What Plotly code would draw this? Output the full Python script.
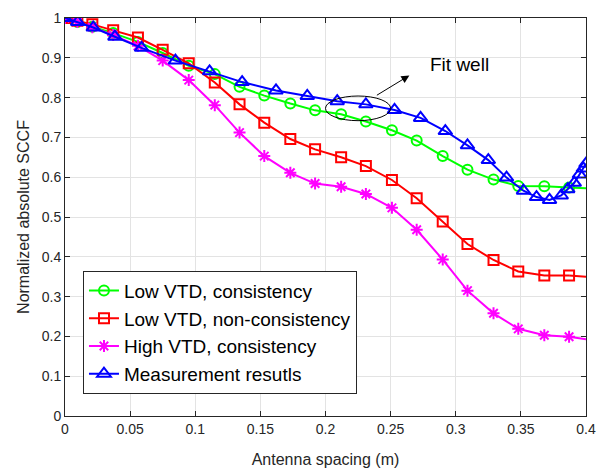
import plotly.graph_objects as go

# ---- data ----
x_sim = [0, 0.0095, 0.021, 0.037, 0.056, 0.075, 0.095, 0.115, 0.134, 0.153, 0.173,
         0.192, 0.212, 0.231, 0.251, 0.270, 0.290, 0.309, 0.329, 0.348, 0.368, 0.387]
x_end = 0.4

low_cons = [1.0, 0.99, 0.978, 0.962, 0.94, 0.912, 0.880, 0.859, 0.827, 0.805, 0.785,
            0.768, 0.758, 0.740, 0.718, 0.692, 0.653, 0.619, 0.594, 0.578, 0.577, 0.574]
low_cons_end = 0.572

low_noncons = [1.0, 0.993, 0.984, 0.969, 0.951, 0.920, 0.886, 0.838, 0.783, 0.737, 0.696,
               0.670, 0.650, 0.628, 0.593, 0.547, 0.489, 0.432, 0.392, 0.363, 0.353, 0.353]
low_noncons_end = 0.350

high_cons = [1.0, 0.99, 0.977, 0.957, 0.93, 0.893, 0.844, 0.781, 0.712, 0.653, 0.611,
             0.584, 0.576, 0.558, 0.523, 0.468, 0.393, 0.315, 0.258, 0.219, 0.203, 0.199]
high_cons_end = 0.193

x_meas = [0, 0.0097, 0.0217, 0.0383, 0.0588, 0.0848, 0.111, 0.136, 0.162, 0.186, 0.209,
          0.231, 0.253, 0.273, 0.292, 0.309, 0.325, 0.339, 0.352, 0.362, 0.372, 0.381,
          0.386, 0.391, 0.395, 0.398, 0.4]
meas = [1.0, 0.99, 0.976, 0.953, 0.925, 0.893, 0.866, 0.839, 0.818, 0.804, 0.791,
        0.783, 0.769, 0.749, 0.716, 0.680, 0.643, 0.599, 0.566, 0.550, 0.543, 0.554,
        0.570, 0.586, 0.607, 0.622, 0.634]

names = ["Low VTD, consistency", "Low VTD, non-consistency",
         "High VTD, consistency", "Measurement resutls"]

x_ticks = [0, 0.05, 0.1, 0.15, 0.2, 0.25, 0.3, 0.35, 0.4]
x_ticklabels = ["0", "0.05", "0.1", "0.15", "0.2", "0.25", "0.3", "0.35", "0.4"]
y_ticks = [0, 0.1, 0.2, 0.3, 0.4, 0.5, 0.6, 0.7, 0.8, 0.9, 1.0]
y_ticklabels = ["0", "0.1", "0.2", "0.3", "0.4", "0.5", "0.6", "0.7", "0.8", "0.9", "1"]

FONT = "Liberation Sans, Arial, Helvetica, sans-serif"
TXT = "#262626"

fig = go.Figure()

sim_series = [
    (low_cons, low_cons_end, "#00FF00", "circle-open", 10),
    (low_noncons, low_noncons_end, "#FF0000", "square-open", 10),
    (high_cons, high_cons_end, "#FF00FF", "asterisk-open", 10),
]
for (ys, yend, col, sym, sz), nm in zip(sim_series, names[:3]):
    fig.add_trace(go.Scatter(
        x=[x_sim[-1], x_end], y=[ys[-1], yend], mode="lines",
        line=dict(color=col, width=2), showlegend=False, hoverinfo="skip"))
    fig.add_trace(go.Scatter(
        x=x_sim, y=ys, mode="lines+markers", name=nm,
        line=dict(color=col, width=2),
        marker=dict(symbol=sym, size=sz, color=col, line=dict(color=col, width=2))))

fig.add_trace(go.Scatter(
    x=x_meas, y=meas, mode="lines+markers", name=names[3],
    line=dict(color="#0000FF", width=2),
    marker=dict(symbol="triangle-up-open", size=12, color="#0000FF",
                line=dict(color="#0000FF", width=2))))

# ellipse + arrow + text
fig.add_shape(type="circle", xref="x", yref="y",
              x0=0.200, x1=0.250, y0=0.742, y1=0.804,
              line=dict(color="black", width=1))
fig.add_annotation(x=0.2644, y=0.8557, ax=0.2383, ay=0.8037,
                   xref="x", yref="y", axref="x", ayref="y",
                   showarrow=True, arrowhead=2, arrowsize=1.6, arrowwidth=1,
                   arrowcolor="black", text="")
fig.add_annotation(x=0.2784, y=0.884, xref="x", yref="y", text="Fit well",
                   showarrow=False, xanchor="left", yanchor="middle",
                   font=dict(family=FONT, size=19, color="black"))

axis_common = dict(
    showgrid=True, gridcolor="#E3E3E3", gridwidth=1,
    showline=True, linecolor="#262626", linewidth=1, mirror="ticks",
    ticks="inside", ticklen=5, tickcolor="#262626",
    tickfont=dict(family=FONT, size=14, color=TXT),
    zeroline=False,
)
fig.update_xaxes(range=[0, 0.4], tickvals=x_ticks, ticktext=x_ticklabels,
                 title=dict(text="Antenna spacing (m)", standoff=18,
                            font=dict(family=FONT, size=16, color=TXT)),
                 **axis_common)
fig.update_yaxes(range=[0, 1], tickvals=y_ticks, ticktext=y_ticklabels,
                 title=dict(text="Normalized absolute SCCF", standoff=8,
                            font=dict(family=FONT, size=16, color=TXT)),
                 **axis_common)

fig.update_layout(
    width=606, height=476,
    margin=dict(l=65, r=19, t=10, b=55),
    plot_bgcolor="white", paper_bgcolor="white",
    legend=dict(x=0.0345, y=0.365, xanchor="left", yanchor="top",
                bgcolor="white", bordercolor="#262626", borderwidth=1,
                font=dict(family=FONT, size=19, color="black"),
                tracegroupgap=0, itemwidth=30),
)

fig.write_html("out.html")
